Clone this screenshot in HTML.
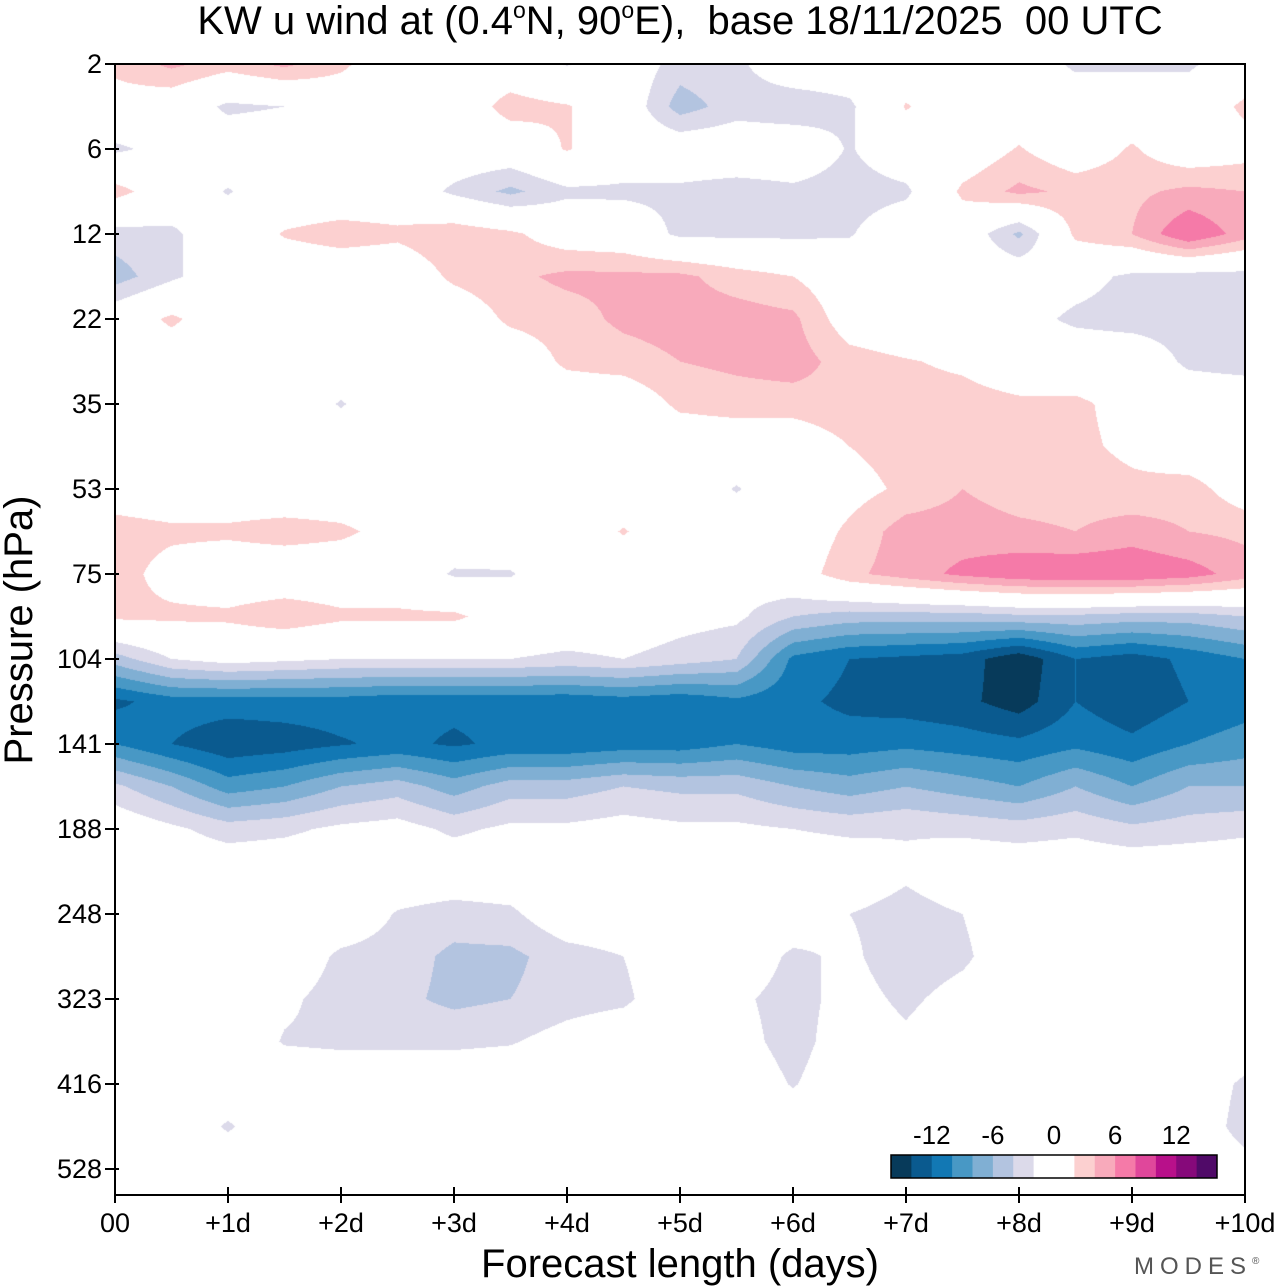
<!DOCTYPE html>
<html><head><meta charset="utf-8">
<style>
html,body{margin:0;padding:0;background:#fff;}
body{width:1280px;height:1286px;position:relative;overflow:hidden;font-family:"Liberation Sans",Arial,sans-serif;}
#plot{position:absolute;left:115px;top:64px;}
svg{position:absolute;left:0;top:0;}
</style></head>
<body>
<canvas id="plot" width="1130" height="1131"></canvas>
<svg id="ov" width="1280" height="1286"></svg>
<script>
// ---- data ----
const times = [0,0.5,1,1.5,2,2.5,3,3.5,4,4.5,5,5.5,6,6.5,7,7.5,8,8.5,9,9.5,10];
const pressureTicks = ["2","6","12","22","35","53","75","104","141","188","248","323","416","528"];
const xTickLabels = ["00","+1d","+2d","+3d","+4d","+5d","+6d","+7d","+8d","+9d","+10d"];
const levels = [-14,-12,-10,-8,-6,-4,-2,2,4,6,8,10,12,14];
const legendLabels = ["-12","-6","0","6","12"];
const legendLabelValues = [-12,-6,0,6,12];
const colors = ["#073a5a","#0a5a8f","#1278b4","#4898c5","#80afd3","#b3c4e0","#dcdaea","#ffffff","#fcd0d0","#f8aabb","#f57aa8","#e0479b","#b8108a","#86097a","#500a68"];
const u = [
[2.5,4.5,3,4.5,2.5,0,0,0,-2.2,0,-3,-2.5,0,0,0,0,0,-2.5,-2.5,-2.5,0],
[1,0,-2.5,-2,0,0,0,3,2.2,0,-5,-3,-3.5,-2.5,2.2,0,0,0,0,0,2.5],
[-2.5,-1,0,0,0,0,0,0,2.2,0,0,0,0,-2.2,0,0,2.2,0,2.3,0,1],
[3,0,-2.2,0,0,0,-2.5,-4.5,-2.5,-2.5,-2.5,-3,-2.5,-3,-2.5,2.5,4.5,3.5,3.5,4.5,4],
[-3,-2.5,0,2.2,3,2.5,3.5,2.5,0.5,0,-2.5,-2.5,-2.5,-2.2,0,0,-4.5,2.5,4,8,5],
[-5,-2.5,0,0,0,0,2.5,3.5,4.5,4.5,4.5,3,2,0,0,0,0,-1,-2.5,-3,-3],
[0,2.5,0,0,0,0,0,2.5,3,4.5,5,5,4.5,0.5,-0.5,0,-1,-2.5,-3,-3,-3],
[0,0,0,0,0,0,0,0,2.5,3,4,4.5,5,3,2.2,1.5,0,0,0,-2.5,-3],
[0,0,0,0,-2.2,0,0,0,0,0,2.5,3,3,3.5,3,3,2.5,2.5,1,0,0],
[0,0,0,0,0,0,0,0,0,0,0,0,0,2,3,3,3,2.5,1.5,0,0],
[0.5,0,0,0,0,0,0,0,0,0,0,-2.2,0,1,2.5,4,3,3,2.5,3,0.5],
[3,2.5,2.5,3,2.5,1,0,0,0,2.2,0,0,0,2.5,5,5,4.5,4,5,4,3.5],
[3,1,0,0,0,0,-2.3,-2.2,0,0,0,-1,0.5,3.5,5,6.5,7.5,7.8,7.8,7,5],
[2.5,2.5,2.5,3.5,2.5,2.5,2.5,0.5,0,0,-1,-1.5,-4,-5,-5,-5,-4.5,-4.5,-5,-5,-4],
[-5,-2,-1,-1.5,-2,-2,-2,-2,-2.5,-2,-3,-4,-10.5,-12,-12.5,-13,-15.5,-12,-13,-11.5,-10],
[-12.5,-11,-11,-11,-11,-11.5,-11.5,-11.5,-11.5,-11,-11.5,-10.5,-11.5,-12.5,-13,-13.5,-15,-12,-13.5,-12,-11],
[-10,-12,-13.5,-13,-12.2,-11.5,-12.3,-11.5,-11.5,-11,-11,-10,-11,-11,-10.5,-11,-11.5,-10.5,-11.5,-10,-9],
[-3.5,-6,-9,-8,-6,-5,-7,-5,-5,-4,-4.5,-4.5,-6,-7,-6,-7,-8,-6,-8,-6,-6],
[0,-1.5,-3,-2.5,-1.5,-1,-2.5,-1.5,-1.5,-1,-1.5,-1.5,-2,-2.5,-2.2,-2.5,-3,-2.5,-3.5,-3,-2.5],
[0,0,0,0,0,0,0,0,0,0,0,0,0,0,-1.5,0,0,0,0,0,0],
[0,0,0,0,0,-2.2,-3,-2.5,0,0,0,0,0,-2,-3,-2,0,0,0,0,0],
[0,0,0,0,-2.5,-3,-4.5,-4.5,-3,-2,0,0,-2.5,-1.5,-3.5,-2.5,0,0,0,0,0],
[0,0,0,-1.5,-3,-3.5,-4.5,-4,-3,-2.5,0,-1.5,-3,-1,-2.5,-1,0,0,0,0,0],
[0,0,0,-2.2,-2.5,-2.5,-2.5,-2.2,-1,0,0,-1,-3,-0.5,-1.5,0,0,0,0,0,0],
[0,0,0,0,0,0,0,0,0,0,0,0,-2.2,0,0,0,0,0,0,0,-2.5],
[0,0,-2.3,0,0,0,0,0,0,0,0,0,0,0,0,0,0,0,0,0,-3],
[0,0,0,0,0,0,0,0,0,0,0,0,0,0,0,0,0,0,0,0,-1],
[0,0,0,0,0,0,0,0,0,0,0,0,0,0,0,0,0,0,0,0,0]
];
// ---- scales ----
const X0=115,X1=1245,Y0=64,Y1=1195,ROWPX=42.5;
function xScale(t){return X0+(X1-X0)*t/10;}
function yScale(r){return Y0+r*ROWPX;}
function hex(c){return [parseInt(c.substr(1,2),16),parseInt(c.substr(3,2),16),parseInt(c.substr(5,2),16)];}
// ---- render field ----
const cv=document.getElementById('plot');const ctx=cv.getContext('2d');
const W=cv.width,H=cv.height;const img=ctx.createImageData(W,H);
const rgb=colors.map(hex);
const nC=times.length,nR=u.length;
const tStep=times[1]-times[0];
for(let py=0;py<H;py++){
  let rf=(py+0.5)/ROWPX; let r0=Math.min(Math.floor(rf),nR-2); let fr=rf-r0;
  for(let px=0;px<W;px++){
    let t=(px+0.5)/(X1-X0)*10; let cf=t/tStep; let c0=Math.min(Math.floor(cf),nC-2); let fc=cf-c0;
    let v=(u[r0][c0]*(1-fc)+u[r0][c0+1]*fc)*(1-fr)+(u[r0+1][c0]*(1-fc)+u[r0+1][c0+1]*fc)*fr;
    let i=0;while(i<levels.length&&v>=levels[i])i++;
    let k=(py*W+px)*4;const cc=rgb[i];
    img.data[k]=cc[0];img.data[k+1]=cc[1];img.data[k+2]=cc[2];img.data[k+3]=255;
  }
}
ctx.putImageData(img,0,0);
// ---- overlay ----
const svg=document.getElementById('ov');const NS='http://www.w3.org/2000/svg';
function mk(tag,attrs,parent){const e=document.createElementNS(NS,tag);for(const k in attrs)e.setAttribute(k,attrs[k]);(parent||svg).appendChild(e);return e;}
let frame=mk('rect',{x:X0,y:Y0,width:X1-X0,height:Y1-Y0,fill:'none',stroke:'#000','stroke-width':2});


pressureTicks.forEach((p,i)=>{
  const y=yScale(i*2);
  let tk=mk('line',{x1:X0-10,x2:X0+4,y1:y,y2:y,stroke:'#000','stroke-width':2});
  
  
  let tx=mk('text',{x:X0-13,y:y+9,'text-anchor':'end','font-size':27,'font-family':'Liberation Sans, sans-serif'});
  tx.textContent=p;
  
  
});
xTickLabels.forEach((l,i)=>{
  const x=xScale(i);
  let tk=mk('line',{x1:x,x2:x,y1:Y1-8,y2:Y1+8,stroke:'#000','stroke-width':2});
  
  
  let tx=mk('text',{x:x,y:Y1+37,'text-anchor':'middle','font-size':27,'font-family':'Liberation Sans, sans-serif'});
  tx.textContent=l;
  
  
});
// legend
const LX=891,LW=326,LY=1155,LH=23,nb=colors.length+1,bw=LW/nb;
let lg=mk('g',{});


let pos=0;
colors.forEach((c,i)=>{
  const w=(i===7)?2*bw:bw;
  let r=mk('rect',{x:LX+pos*bw,y:LY,width:w+0.5,height:LH,fill:c},lg);
  
  
  pos+=(i===7)?2:1;
});
mk('rect',{x:LX,y:LY,width:LW,height:LH,fill:'none',stroke:'#000','stroke-width':1.5},lg);
legendLabels.forEach((l,i)=>{
  const x=LX+LW/2+legendLabelValues[i]/2*bw;
  let tx=mk('text',{x:x,y:1144,'text-anchor':'middle','font-size':26,'font-family':'Liberation Sans, sans-serif'},lg);
  tx.textContent=l;
  
  
});
</script>
<svg width="1280" height="1286" style="position:absolute;left:0;top:0">
<text x="680" y="34" text-anchor="middle" font-size="40" font-family="Liberation Sans, sans-serif">KW u wind at (0.4<tspan font-size="23" dy="-16">o</tspan><tspan dy="16">N, 90</tspan><tspan font-size="23" dy="-16">o</tspan><tspan dy="16">E),&#160; base 18/11/2025&#160; 00 UTC</tspan></text>
<text transform="translate(32,630) rotate(-90)" text-anchor="middle" font-size="40" font-family="Liberation Sans, sans-serif">Pressure (hPa)</text>
<text x="680" y="1277" text-anchor="middle" font-size="40" font-family="Liberation Sans, sans-serif">Forecast length (days)</text>
<text x="1134" y="1274" font-size="24" letter-spacing="6" fill="#555" font-family="Liberation Sans, sans-serif">MODES<tspan font-size="10" dy="-10" letter-spacing="0">®</tspan></text>
</svg>
</body></html>
